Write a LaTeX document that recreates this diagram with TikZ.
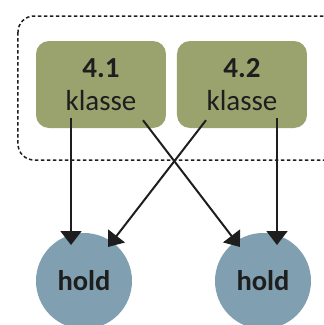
\documentclass[tikz,border=0pt]{standalone}
\usepackage{fontspec}
\setmainfont{Carlito}
\usetikzlibrary{arrows.meta}

\definecolor{klassegreen}{RGB}{154,162,110}
\definecolor{holdblue}{RGB}{128,160,178}
\definecolor{ink}{RGB}{30,30,30}

\begin{document}
\begin{tikzpicture}[x=1pt, y=-1pt,
	klassebox/.style={fill=klassegreen, rounded corners=13pt, minimum width=130pt, minimum height=87pt, align=center, text=ink, font=\fontsize{29}{33}\selectfont},
	holdnode/.style={circle, fill=holdblue, minimum size=96pt, inner sep=0pt, text=ink, font=\fontsize{28.5}{32}\selectfont\bfseries},
	arr/.style={draw=ink, line width=2pt, -{Triangle[length=14pt,width=21pt]}}]
	\path[use as bounding box, clip] (0,0) rectangle (324,325);

	% frame round the two classes
	\draw [ink, line width=1.5pt, dash pattern=on 3.5pt off 2.5pt, rounded corners=16pt] (18,16) rectangle (345,160);

	\node[klassebox] (k41) at (101,84.5) {\textbf{4.1}\\klasse};
	\node[klassebox] (k42) at (242,84.5) {\textbf{4.2}\\klasse};

	\node[holdnode] (h1) at (84,281) {hold};
	\node[holdnode] (h2) at (263,281) {hold};

	\draw [arr] ([xshift=-30pt,yshift=10pt]k41.south) -- ([xshift=-13pt,yshift=36pt]h1.center);
	\draw [arr] ([xshift=42pt,yshift=8pt]k41.south) -- ([xshift=-23pt,yshift=34pt]h2.center);
	\draw [arr] ([xshift=-36pt,yshift=8pt]k42.south) -- ([xshift=24pt,yshift=34pt]h1.center);
	\draw [arr] ([xshift=35pt,yshift=10pt]k42.south) -- ([xshift=14pt,yshift=36pt]h2.center);
\end{tikzpicture}
\end{document}
